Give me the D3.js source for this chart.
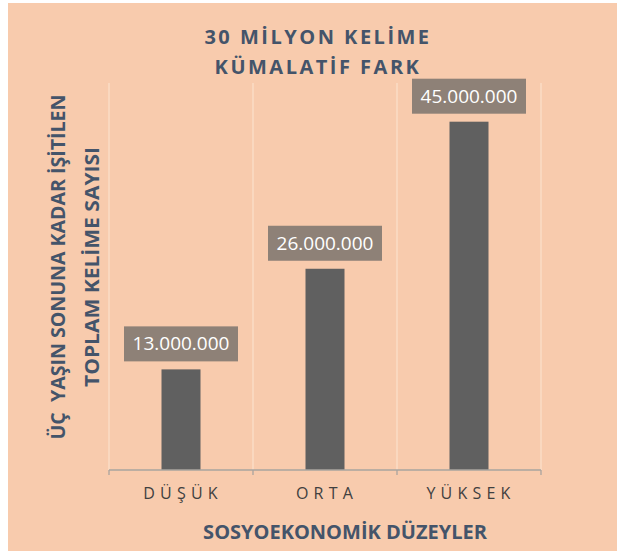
<!DOCTYPE html>
<html>
  <head>
    <meta charset="utf-8" />
    <title>30 Milyon Kelime</title>
    <script src="https://d3js.org/d3.v7.min.js"></script>
    <style>
      body { margin: 0; background: #fff; font-family: "Open Sans", sans-serif; }
      svg { display: block; }
    </style>
  </head>
  <body>
    <svg width="617" height="551"></svg>
    <script>
      const categories = ["DÜŞÜK", "ORTA", "YÜKSEK"];
      const values = [13000000, 26000000, 45000000];
      const titleLines = ["30 MİLYON KELİME", "KÜMALATİF FARK"];
      const yTitleLines = ["ÜÇ\u00a0 YAŞIN SONUNA KADAR İŞİTİLEN", "TOPLAM KELİME SAYISI"];
      const xTitle = "SOSYOEKONOMİK DÜZEYLER";

      const svg = d3.select("svg");
      const titleColor = "#44546a";

      // chart background
      svg.append("rect")
        .attr("x", 8).attr("y", 3)
        .attr("width", 609).attr("height", 548)
        .attr("fill", "#f8cbad");

      const margin = { left: 109, right: 76, top: 83, bottom: 81 };
      const x0 = margin.left, x1 = 617 - margin.right;
      const yBase = 551 - margin.bottom;

      const x = d3.scaleBand().domain(categories).range([x0, x1]);
      const y = d3.scaleLinear().domain([0, 50000000]).range([yBase, margin.top]);

      // vertical gridlines at band edges
      const edges = categories.map(c => x(c)).concat([x1]);
      svg.append("g").selectAll("line").data(edges).join("line")
        .attr("x1", d => d).attr("x2", d => d)
        .attr("y1", margin.top).attr("y2", yBase)
        .attr("stroke", "#fbdcc6").attr("stroke-width", 1.5);

      // bars
      const barW = 39;
      svg.append("g").selectAll("rect").data(values).join("rect")
        .attr("x", (d, i) => x(categories[i]) + x.bandwidth() / 2 - barW / 2)
        .attr("y", d => y(d))
        .attr("width", barW)
        .attr("height", d => yBase - y(d))
        .attr("fill", "#606060");

      // x axis
      const xAxis = svg.append("g")
        .attr("transform", `translate(0,${yBase})`);
      xAxis.append("line")
        .attr("x1", x0).attr("x2", x1)
        .attr("stroke", "#a9a49f").attr("stroke-width", 1.3);
      xAxis.selectAll(".tick").data(edges).join("line")
        .attr("x1", d => d).attr("x2", d => d)
        .attr("y1", 0).attr("y2", 5)
        .attr("stroke", "#a9a49f").attr("stroke-width", 1.3);
      xAxis.selectAll("text").data(categories).join("text")
        .attr("x", d => x(d) + x.bandwidth() / 2 + 2)
        .attr("y", 29)
        .attr("text-anchor", "middle")
        .attr("font-size", 16)
        .attr("letter-spacing", 5.2)
        .attr("fill", "#404040")
        .text(d => d);

      // value labels
      const labels = svg.append("g").selectAll("g").data(values).join("g")
        .attr("transform", (d, i) =>
          `translate(${x(categories[i]) + x.bandwidth() / 2},${y(d) - 8})`);
      labels.append("rect")
        .attr("x", -57).attr("y", -35)
        .attr("width", 114).attr("height", 35)
        .attr("fill", "#8e8177");
      labels.append("text")
        .attr("y", -11)
        .attr("text-anchor", "middle")
        .attr("font-size", 19)
        .attr("fill", "#fff")
        .text(d => d3.format(",")(d).replace(/,/g, "."));

      // title
      svg.append("text")
        .attr("x", 318).attr("y", 44)
        .attr("text-anchor", "middle")
        .attr("font-size", 20).attr("font-weight", "bold")
        .attr("letter-spacing", 2.5)
        .attr("fill", titleColor)
        .selectAll("tspan").data(titleLines).join("tspan")
        .attr("x", 318).attr("dy", (d, i) => i ? 30 : 0)
        .text(d => d);

      // y axis title
      const yTitleLen = [345, 240];
      svg.append("g").selectAll("text").data(yTitleLines).join("text")
        .attr("transform", (d, i) => `translate(${65 + i * 34},267) rotate(-90)`)
        .attr("text-anchor", "middle")
        .attr("font-size", 19).attr("font-weight", "bold")
        .attr("textLength", (d, i) => yTitleLen[i])
        .attr("lengthAdjust", "spacingAndGlyphs")
        .attr("fill", titleColor)
        .text(d => d);

      // x axis title
      svg.append("text")
        .attr("x", 345).attr("y", 539)
        .attr("text-anchor", "middle")
        .attr("font-size", 20).attr("font-weight", "bold")
        .attr("fill", titleColor)
        .text(xTitle);
    </script>
  </body>
</html>
